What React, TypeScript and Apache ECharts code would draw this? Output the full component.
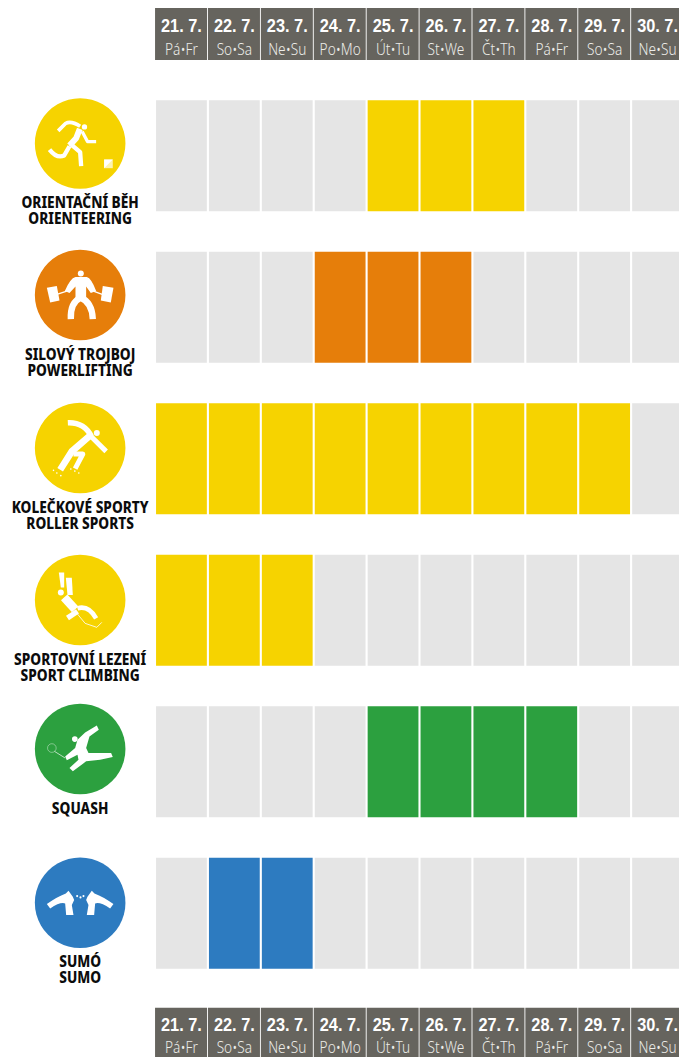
import React, { useEffect, useRef } from "react";
import * as echarts from "echarts";

const dayLabels = ["21. 7.", "22. 7.", "23. 7.", "24. 7.", "25. 7.", "26. 7.", "27. 7.", "28. 7.", "29. 7.", "30. 7."];
const weekdayLabels = ["Pá•Fr", "So•Sa", "Ne•Su", "Po•Mo", "Út•Tu", "St•We", "Čt•Th", "Pá•Fr", "So•Sa", "Ne•Su"];
const sportNames = [
  ["ORIENTAČNÍ BĚH", "ORIENTEERING"],
  ["SILOVÝ TROJBOJ", "POWERLIFTING"],
  ["KOLEČKOVÉ SPORTY", "ROLLER SPORTS"],
  ["SPORTOVNÍ LEZENÍ", "SPORT CLIMBING"],
  ["SQUASH"],
  ["SUMÓ", "SUMO"],
];
const sportColors = ["#f6d300", "#e67e0a", "#f6d300", "#f6d300", "#2ca03f", "#2d7bc0"];
const orienteering = [0, 0, 0, 0, 1, 1, 1, 0, 0, 0];
const powerlifting = [0, 0, 0, 1, 1, 1, 0, 0, 0, 0];
const rollerSports = [1, 1, 1, 1, 1, 1, 1, 1, 1, 0];
const sportClimbing = [1, 1, 1, 0, 0, 0, 0, 0, 0, 0];
const squash = [0, 0, 0, 0, 1, 1, 1, 1, 0, 0];
const sumo = [0, 1, 1, 0, 0, 0, 0, 0, 0, 0];
const schedule = [orienteering, powerlifting, rollerSports, sportClimbing, squash, sumo];

const GREY = "#e5e5e5";
const HEADER = "#66645e";

type Stroke = { d: string; w?: number; fill?: boolean; color?: string };
const dot = (x: number, y: number, r: number) => `M${x - r} ${y}A${r} ${r} 0 1 0 ${x + r} ${y}A${r} ${r} 0 1 0 ${x - r} ${y}Z`;

// pictograms, in 3x units around each circle's centre
const pictograms: Stroke[][] = [
  [
    { d: dot(13, -50, 8), fill: true },
    { d: "M-1 -44L-12 -16L-32 6", w: 18 },
    { d: "M0 -52Q-28 -70 -44 -60L-66 -38", w: 11 },
    { d: "M6 -36L22 -6L48 -6", w: 10 },
    { d: "M-30 0L0 26L3 68", w: 13 },
    { d: "M-32 8L-48 36Q-70 46 -92 18", w: 13 },
    { d: "M72 48H98V74H72Z", fill: true, color: "#fdf3b0" },
    { d: "M72 48H98L72 74Z", fill: true },
  ],
  [
    { d: dot(2, -65, 9), fill: true },
    { d: "M-46 -12Q-30 -50 -14 -54H20Q34 -50 48 -12L32 -6L18 -26V12H-14V-26L-32 -6Z", fill: true },
    { d: "M-28 72Q-30 22 2 8Q36 22 38 72", w: 19 },
    { d: "M-70 -2L-40 -12M40 -12L66 -2", w: 4 },
    { d: "M-100 -22L-70 -27L-62 16L-90 22Z", fill: true },
    { d: "M68 -27L100 -22L92 22L62 16Z", fill: true },
  ],
  [
    { d: dot(50, -45, 9), fill: true },
    { d: "M-37 -76Q12 -78 34 -35", w: 16 },
    { d: "M30 -38L-25 10L-60 65", w: 20 },
    { d: "M30 -38L78 10", w: 15 },
    { d: "M-20 18H8L-15 62", w: 15 },
    { d: dot(-80, 67, 2.5) + dot(-70, 75, 2.5) + dot(-58, 83, 2.5) + dot(-28, 63, 2.5) + dot(-16, 69, 2.5) + dot(-4, 75, 2.5), fill: true },
  ],
  [
    { d: "M-64 -83H-48V-38H-58Z", fill: true },
    { d: "M-43 -67H-25L-22 -15H-38Z", fill: true },
    { d: dot(-58, -23, 9), fill: true },
    { d: "M-48 -8L-15 28", w: 26 },
    { d: "M-38 54L-8 34", w: 16 },
    { d: "M-8 25Q25 15 48 55", w: 14 },
    { d: "M-8 42L15 70L50 82L65 67", w: 2.5 },
  ],
  [
    { d: dot(-16, -30, 8.5), fill: true },
    { d: "M50 -71L56 -58L28 -38L18 -3L25 12L60 12L93 12L98 24L60 32L18 37L-22 67L-32 57L-5 32L-8 17L-40 34L-45 22L-15 -3L-8 -28L15 -50Z", fill: true },
    { d: "M-45 27L-77 7", w: 2 },
    { d: dot(-85, -3, 13), w: 1.2 },
  ],
  [
    { d: "M-100 4Q-70 -18 -43 -28L-35 -36L-22 -18L-18 -8L-25 7L-20 37H-42L-45 2Q-60 -3 -90 17Z", fill: true },
    { d: "M100 4Q70 -18 43 -28L35 -36L22 -18L18 -8L25 7L20 37H42L45 2Q60 -3 90 17Z", fill: true },
    { d: dot(-9, -20, 3.2) + dot(1, -16, 3.2) + dot(10, -20, 3.2), fill: true },
  ],
];

const CELL_W = 50.8;
const CELL_H = 111;
const GRID_H = 909;
const BAND_H = GRID_H / 6;
const circleShift = [-12.2, -12.2, -10.7, -10.2, -12.7, -10.5];

const cellData: number[][] = [];
schedule.forEach((row, r) => row.forEach((on, d) => cellData.push([d, r, on])));
const rowIndex = sportNames.map((_, i) => [0, i]);
const dayIndex = dayLabels.map((_, i) => [i, 0]);

function renderCell(params: any, api: any) {
  const p = api.coord([api.value(0), api.value(1)]);
  const on = api.value(2);
  return {
    type: "rect",
    shape: { x: p[0] - CELL_W / 2, y: p[1] - CELL_H / 2, width: CELL_W, height: CELL_H },
    style: { fill: on ? sportColors[api.value(1)] : GREY },
  };
}

function renderHeader(params: any, api: any) {
  const d = api.value(0);
  const x = api.coord([d, 0])[0];
  const gridTop = api.coord([d, 0])[1] - BAND_H / 2;
  const gridBottom = api.coord([d, 5])[1] + BAND_H / 2;
  const box = (top: number, weekdayY: number) => [
    { type: "rect", shape: { x: x - 26.4, y: top, width: 52, height: 52 }, style: { fill: HEADER } },
    {
      type: "text",
      x,
      y: top + 17.2,
      scaleX: 0.86,
      style: {
        text: dayLabels[d],
        fontFamily: "Liberation Sans",
        fontSize: 19,
        fontWeight: 700,
        fill: "#fff",
        align: "center",
        verticalAlign: "middle",
      },
    },
    {
      type: "text",
      x,
      y: top + weekdayY,
      scaleX: 0.88,
      style: {
        text: weekdayLabels[d],
        fontFamily: "Noto Sans",
        fontSize: 15.5,
        fontWeight: 300,
        fill: "#ecece8",
        align: "center",
        verticalAlign: "middle",
      },
    },
  ];
  return { type: "group", children: [...box(gridTop - 72, 40.3), ...box(gridBottom + 18.7, 38.7)] };
}

function renderSport(params: any, api: any) {
  const r = api.value(1);
  const p = api.coord([0, r]);
  const cx = p[0] - 101.3;
  const cy = p[1] + circleShift[r];
  const names = sportNames[r];
  return {
    type: "group",
    children: [
      { type: "circle", shape: { cx, cy, r: 45.3 }, style: { fill: sportColors[r] } },
      {
        type: "group",
        x: cx,
        y: cy,
        scaleX: 1 / 3,
        scaleY: 1 / 3,
        children: pictograms[r].map((s) => ({
          type: "path",
          shape: { pathData: s.d },
          style: s.fill
            ? { fill: s.color || "#fff", stroke: "none" }
            : { fill: "none", stroke: "#fff", lineWidth: s.w, lineCap: "butt", lineJoin: "round" },
        })),
      },
      ...names.map((t, i) => ({
        type: "text",
        x: cx,
        y: cy + 58.3 + i * 15.8,
        scaleX: 0.855,
        style: {
          text: t,
          fontFamily: "Noto Sans",
          fontSize: 16,
          fontWeight: 800,
          fill: "#0c0c0c",
          align: "center",
          verticalAlign: "middle",
        },
      })),
    ],
  };
}

const hiddenAxis = (position: "top" | "bottom") => ({
  type: "category" as const,
  position,
  data: dayLabels,
  axisLine: { show: false },
  axisTick: { show: false },
  splitLine: { show: false },
  axisLabel: { show: false },
});

export default function App() {
  const ref = useRef<HTMLDivElement>(null);
  useEffect(() => {
    document.body.style.margin = "0";
    const chart = echarts.init(ref.current!, null, { renderer: "svg" });
    const custom = { type: "custom", encode: { x: 0, y: 1 }, clip: false, silent: true };
    chart.setOption({
      animation: false,
      backgroundColor: "#fff",
      grid: { left: 155, top: 80, width: 529, height: GRID_H, outerBoundsMode: "none" },
      xAxis: hiddenAxis("top"),
      yAxis: {
        type: "category",
        inverse: true,
        data: sportNames.map((n) => n[n.length - 1]),
        show: false,
      },
      series: [
        { ...custom, renderItem: renderCell, data: cellData },
        { ...custom, renderItem: renderHeader, data: dayIndex },
        { ...custom, renderItem: renderSport, data: rowIndex },
      ],
    });
    return () => chart.dispose();
  }, []);
  return <div ref={ref} style={{ width: 679, height: 1057 }} />;
}
